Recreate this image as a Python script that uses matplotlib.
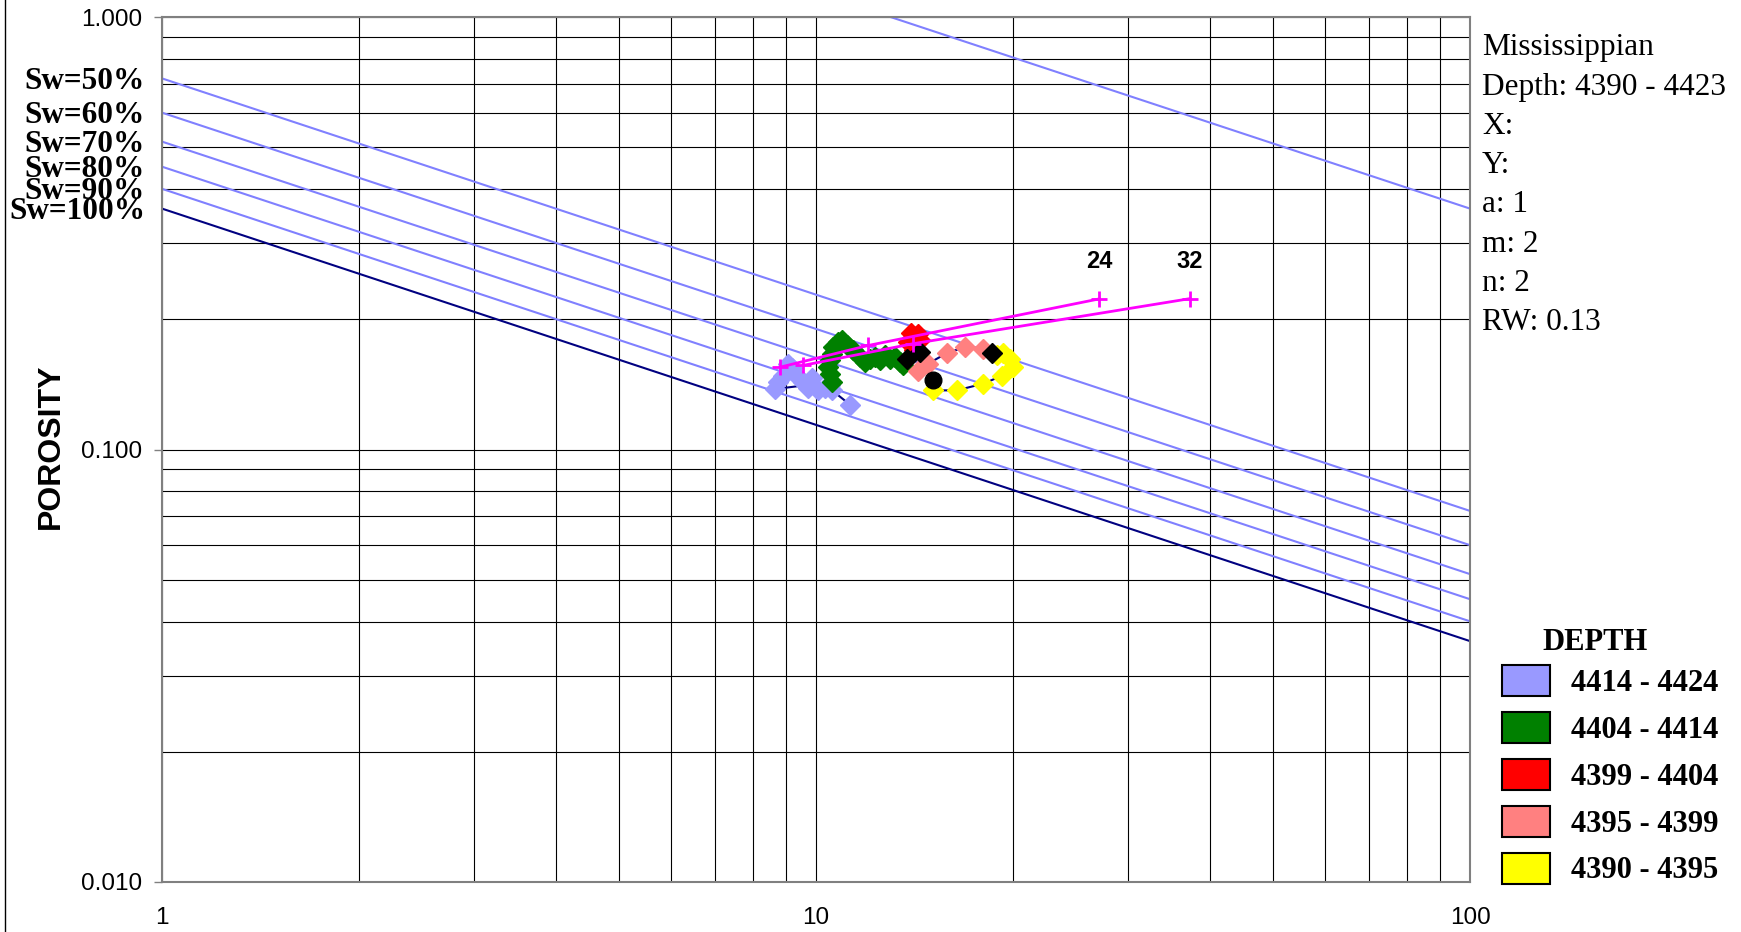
import numpy as np
import matplotlib.pyplot as plt
from matplotlib.lines import Line2D
from matplotlib.patches import Patch
from matplotlib.ticker import FixedLocator, FixedFormatter, NullFormatter, LogLocator

# -----------------------------
# PARAMETROS DE ARCHIE
# -----------------------------
a = 1
m = 2
n = 2
rw = 0.13

sw_lines = [10, 50, 60, 70, 80, 90, 100]
sw_labels = [50, 60, 70, 80, 90, 100]

# -----------------------------
# LEITURAS (Rt, porosidade) por intervalo
# -----------------------------
rt_4390 = [15.12, 16.41, 18.03, 19.23, 20.03, 19.80, 19.34, 18.89]
phi_4390 = [0.137, 0.137, 0.142, 0.148, 0.155, 0.162, 0.167, 0.165]

rt_4395 = [18.03, 16.90, 15.84, 14.85, 14.34]
phi_4395 = [0.171, 0.1725, 0.167, 0.158, 0.152]

rt_4399 = [14.42, 14.32, 13.97, 13.83, 14.12]
phi_4399 = [0.179, 0.185, 0.186, 0.177, 0.170]

rt_4404 = [13.60, 13.44, 13.21, 12.98, 12.75, 12.53, 12.31, 12.09, 11.88, 11.67,
           11.40, 11.14, 10.95, 10.82, 10.63, 10.57, 10.50, 10.44, 10.50, 10.57]
phi_4404 = [0.1565, 0.1593, 0.1636, 0.1622, 0.1651, 0.1607, 0.1636, 0.1622, 0.1593, 0.1636,
            0.1695, 0.1741, 0.1788, 0.1772, 0.1725, 0.1666, 0.1607, 0.1551, 0.1497, 0.1432]

rt_4414 = [8.66, 8.75, 8.90, 9.06, 9.19, 9.35, 9.55, 9.72, 9.86, 10.07, 10.32, 10.50, 10.58, 11.27]
phi_4414 = [0.138, 0.143, 0.148, 0.158, 0.154, 0.148, 0.143, 0.139, 0.146, 0.137, 0.139, 0.141, 0.137, 0.127]

# pontos marcados em preto
rt_blk = [13.76, 14.42, 18.56]
phi_blk = [0.162, 0.168, 0.167]
rt_circ = [15.12]
phi_circ = [0.145]

# linhas magenta
rt_24 = [8.81, 12.02, 27.12]
phi_24 = [0.155, 0.174, 0.223]
rt_32 = [9.56, 14.09, 37.32]
phi_32 = [0.1565, 0.1757, 0.2233]

depth_labels = ["4414 - 4424", "4404 - 4414", "4399 - 4404", "4395 - 4399", "4390 - 4395"]
depth_colors = ["#9999FF", "#008000", "#FF0000", "#FF8080", "#FFFF00"]

info = ["Mississippian", "Depth: 4390 - 4423", "X:", "Y:",
        f"a: {a}", f"m: {m}", f"n: {n}", f"RW: {rw}"]

serif = "Liberation Serif"
sans = "Liberation Sans"

# -----------------------------
# GRAFICO
# -----------------------------
fig = plt.figure(figsize=(17.41, 9.32), dpi=100)
ax = fig.add_axes([162 / 1741, 1 - 882 / 932, 1308 / 1741, 865 / 932])
ax.set_xscale("log")
ax.set_yscale("log")
ax.set_xlim(1, 100)
ax.set_ylim(0.01, 1)

# linhas de Sw
rt_edges = np.array([1.0, 100.0])
for sw in sw_lines:
    phi = (a * rw / (rt_edges * (sw / 100) ** n)) ** (1 / m)
    cor = "#000080" if sw == 100 else "#8080FF"
    ax.plot(rt_edges, phi, color=cor, lw=1.5, zorder=2)

for sw in sw_labels:
    phi0 = (a * rw / (1.0 * (sw / 100) ** n)) ** (1 / m)
    ax.annotate(f"Sw={sw}%", xy=(1, phi0), xytext=(-17, -3), textcoords="offset pixels",
                ha="right", va="center", fontsize=22.5, fontweight="bold",
                family=serif, annotation_clip=False)

# trajetoria ligando os pontos
track_rt = rt_4390 + rt_4395 + rt_4399 + rt_4404 + rt_4414
track_phi = phi_4390 + phi_4395 + phi_4399 + phi_4404 + phi_4414
ax.plot(track_rt, track_phi, color="#000080", lw=1.5, zorder=3)

series = [(rt_4414, phi_4414), (rt_4404, phi_4404), (rt_4399, phi_4399),
          (rt_4395, phi_4395), (rt_4390, phi_4390)]
for (rt, phi), cor in zip(series, depth_colors):
    ax.plot(rt, phi, ls="none", marker="D", ms=10, color=cor, mec=cor, zorder=4)

ax.plot(rt_blk, phi_blk, ls="none", marker="D", ms=10, color="black", zorder=5)
ax.plot(rt_circ, phi_circ, ls="none", marker="o", ms=12, color="black", zorder=5)

for rt, phi, lab in [(rt_24, phi_24, "24"), (rt_32, phi_32, "32")]:
    ax.plot(rt, phi, color="#FF00FF", lw=2, marker="+", ms=11, mew=2, zorder=6)
    ax.annotate(lab, xy=(rt[-1], phi[-1]), xytext=(0, 37), textcoords="offset pixels",
                ha="center", va="center", fontsize=17, fontweight="bold", family=sans)

# eixos e grade
ax.xaxis.set_major_locator(FixedLocator([1, 10, 100]))
ax.xaxis.set_major_formatter(FixedFormatter(["1", "10", "100"]))
ax.yaxis.set_major_locator(FixedLocator([0.01, 0.1, 1]))
ax.yaxis.set_major_formatter(FixedFormatter(["0.010", "0.100", "1.000"]))
ax.xaxis.set_minor_locator(LogLocator(base=10, subs=np.arange(2, 10)))
ax.yaxis.set_minor_locator(LogLocator(base=10, subs=np.arange(2, 10)))
ax.xaxis.set_minor_formatter(NullFormatter())
ax.yaxis.set_minor_formatter(NullFormatter())
ax.grid(True, which="both", color="black", lw=0.8, zorder=1)
ax.set_axisbelow(True)

ax.tick_params(axis="x", which="both", length=0, pad=18, labelsize=17.5)
ax.tick_params(axis="y", which="major", length=6, width=1, color="#808080", pad=8, labelsize=17.5)
ax.tick_params(axis="y", which="minor", length=0)
for lab in ax.get_xticklabels() + ax.get_yticklabels():
    lab.set_family(sans)
for sp in ax.spines.values():
    sp.set_color("#808080")
    sp.set_linewidth(1.5)

fig.text(51 / 1741, 1 - 446 / 932, "POROSITY", rotation=90, ha="center", va="center",
         fontsize=23, fontweight="bold", family=sans)

# texto lateral
y0 = 55.5
for i, linha in enumerate(info):
    fig.text(1482 / 1741, 1 - (y0 + i * 39.2) / 932, linha, ha="left", va="baseline",
             fontsize=22.5, family=serif)

# legenda
fig.text(1595 / 1741, 1 - 642 / 932, "DEPTH", ha="center", va="center",
         fontsize=22, fontweight="bold", family=serif)
handles = [Patch(facecolor=c, edgecolor="black", lw=1.5) for c in depth_colors]
leg = fig.legend(handles, depth_labels, loc="upper left",
                 bbox_to_anchor=(1487 / 1741, 1 - 650 / 932), frameon=False,
                 borderpad=0, handlelength=1.55, handleheight=1.18, handletextpad=0.7,
                 labelspacing=0.46, prop={"family": serif, "weight": "bold", "size": 22})

fig.add_artist(Line2D([5 / 1741, 5 / 1741], [0, 1], transform=fig.transFigure,
                      color="black", lw=1))

fig.savefig("out.png", dpi=100)
